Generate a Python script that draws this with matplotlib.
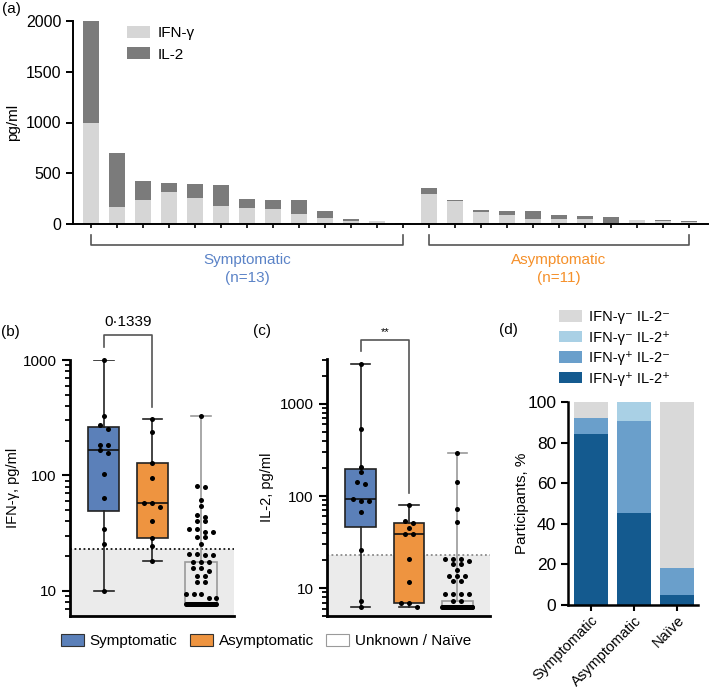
import numpy as np
import matplotlib
matplotlib.use("Agg")
import matplotlib.pyplot as plt
from matplotlib.patches import Patch
from matplotlib.ticker import LogLocator, NullFormatter
from matplotlib.transforms import blended_transform_factory

plt.rcParams['font.family'] = ['Liberation Sans', 'DejaVu Sans']
plt.rcParams['font.size'] = 10.5

# ---------------------------------------------------------------
# (a) donneurs individuels, IFN-g + IL-2 empilés
ifn_a = [1000, 170, 240, 318, 259, 177, 154, 145, 95, 59, 30, 32, 3,
         296, 230, 118, 85, 52, 52, 46, 3, 35, 25, 22]
il2_a = [1000, 533, 184, 86, 135, 204, 89, 91, 141, 69, 22, 1, 5,
         56, 6, 20, 46, 73, 37, 36, 63, 4, 11, 4]
n_sym, n_asym = 13, 11

# (b) IFN-g, pg/ml
ifn_sym = [1000, 330, 272, 250, 185, 185, 165, 155, 102, 64, 34, 25.6, 10]
ifn_asym = [309, 238, 128, 94, 57, 57, 53, 40, 28.6, 24.6, 18.2]
ifn_naive = [326, 81, 80, 61.5, 53.7, 45.5, 43.5, 40.4, 40.4, 34.4, 34.4, 32, 32,
             29.3, 29.3, 25.6, 20.7, 20.7, 20.5, 20.5, 17.6, 17.6, 17.6, 15.7, 15.7,
             14.9, 13.4, 13.4, 12, 12, 9.3, 9.3, 9.3, 8.7, 8.7] + [7.7] * 49

# (c) IL-2, pg/ml
il2_sym = [2700, 535, 206, 184, 143, 134, 94, 88, 88, 67.5, 25.9, 7.3, 6.3]
il2_asym = [79.8, 54, 50.5, 44.6, 38.6, 38.6, 20.5, 11.7, 6.9, 6.9, 6.3]
il2_naive = [291, 143, 71.6, 52.5, 21, 20.5, 20.5, 19.5, 18.5, 18.5, 15.7, 13.6,
             13.6, 13.6, 12, 12, 8.75, 8.75, 8.75, 8.75, 7.2, 7.2] + [6.3] * 62
seuil_ifn = 23
seuil_il2 = 23

# (d) participants, %
groupes_d = ['Symptomatic', 'Asymptomatic', 'Naïve']
pp = [84.6, 45.5, 5.1]   # IFN-g+ IL-2+
pm = [7.7, 45.4, 13.2]   # IFN-g+ IL-2-
mp = [0, 9.1, 0]         # IFN-g- IL-2+
mm = [7.7, 0, 81.7]      # IFN-g- IL-2-

c_sym = '#5b80b9'
c_asym = '#ee9440'
c_sym_txt = '#5b83c7'
c_asym_txt = '#f5902a'

W, H = 709, 690
fig = plt.figure(figsize=(W / 100, H / 100), dpi=100)


def ax_px(x0, y0, x1, y1):
    # axes a partir de coordonnees pixel (haut-gauche, bas-droit)
    return fig.add_axes([x0 / W, 1 - y1 / H, (x1 - x0) / W, (y1 - y0) / H])


def style_spines(ax, lw=1.6):
    ax.spines['top'].set_visible(False)
    ax.spines['right'].set_visible(False)
    ax.spines['left'].set_linewidth(lw)
    ax.spines['bottom'].set_linewidth(lw)


#----------------------------------------------------------------
# Panel (a)
ax_a = ax_px(73, 21, 708, 224)
x = np.arange(n_sym + n_asym)
ax_a.bar(x, ifn_a, width=0.64, color='#d6d6d6', label='IFN-γ')
ax_a.bar(x, il2_a, bottom=ifn_a, width=0.64, color='#7b7b7b', label='IL-2')
ax_a.set_xlim(-0.69, 23.73)
ax_a.set_ylim(0, 2000)
ax_a.set_yticks([0, 500, 1000, 1500, 2000])
ax_a.set_xticks(x)
ax_a.set_xticklabels([])
ax_a.tick_params(axis='x', length=3, width=1.2)
ax_a.tick_params(axis='y', length=5, width=1.4, labelsize=11.5)
style_spines(ax_a, 1.4)
ax_a.set_ylabel('pg/ml', fontsize=11)
ax_a.yaxis.set_label_coords(-0.084, 0.5)
ax_a.legend(loc='upper left', bbox_to_anchor=((127 - 73) / 635, (224 - 26) / 203),
            frameon=False, borderpad=0, borderaxespad=0, handlelength=1.5,
            handleheight=0.85, labelspacing=0.45, handletextpad=0.5, fontsize=11)

tr = blended_transform_factory(ax_a.transData, ax_a.transAxes)
for (i0, i1, titre, n, col) in [(0, n_sym - 1, 'Symptomatic', n_sym, c_sym_txt),
                                (n_sym, n_sym + n_asym - 1, 'Asymptomatic', n_asym, c_asym_txt)]:
    ax_a.plot([i0, i0, i1, i1], [-0.054, -0.103, -0.103, -0.054], color='#555555',
              lw=1.2, transform=tr, clip_on=False)
    xm = (i0 + i1) / 2
    ax_a.text(xm, -0.177, titre, color=col, ha='center', va='center', fontsize=11, transform=tr)
    ax_a.text(xm, -0.266, f'(n={n})', color=col, ha='center', va='center', fontsize=11, transform=tr)


#----------------------------------------------------------------
# Panels (b) et (c) : boites + points
def swarm(ax, pos, vals, gap_px=8, tol_px=4.5, half_px=15):
    vals = np.sort(np.asarray(vals, dtype=float))[::-1]
    ys = ax.transData.transform(np.column_stack([np.full(len(vals), pos), vals]))[:, 1]
    px_x = ax.transData.transform([[1, 1]])[0, 0] - ax.transData.transform([[0, 1]])[0, 0]
    xs = []
    i = 0
    while i < len(vals):
        j = i
        while j + 1 < len(vals) and ys[i] - ys[j + 1] < tol_px:
            j += 1
        k = j - i + 1
        step = gap_px if (k - 1) * gap_px <= 2 * half_px else 2 * half_px / (k - 1)
        offs = (np.arange(k) - (k - 1) / 2) * step
        xs.extend(pos + offs / px_x)
        i = j + 1
    ax.scatter(xs, vals, s=13, color='k', lw=0, zorder=5, clip_on=False)


def panel_boites(ax, groupes, ylim, seuil, seuil_col):
    ax.set_yscale('log')
    ax.set_xlim(0.3, 3.68)
    ax.set_ylim(*ylim)
    ax.axhspan(ylim[0], seuil, color='#ebebeb', zorder=0, lw=0)
    ax.axhline(seuil, ls=(0, (1, 1.5)), color=seuil_col, lw=1.3, zorder=1)
    for pos, (vals, face, edge) in enumerate(groupes, start=1):
        q1, med, q3 = np.percentile(vals, [25, 50, 75], method='weibull')
        stats = [dict(med=med, q1=q1, q3=q3, whislo=min(vals), whishi=max(vals), fliers=[])]
        ax.bxp(stats, positions=[pos], widths=0.64, patch_artist=True, showfliers=False,
               capwidths=0.4, manage_ticks=False,
               boxprops=dict(facecolor=face, edgecolor=edge, lw=1.2),
               whiskerprops=dict(color=edge, lw=1.2),
               capprops=dict(color=edge, lw=1.2),
               medianprops=dict(color='#111111', lw=1.2))
        swarm(ax, pos, vals)
    ax.set_xticks([])
    ax.set_yticks([10, 100, 1000])
    ax.set_yticklabels(['10', '100', '1000'])
    ax.yaxis.set_minor_locator(LogLocator(base=10, subs=np.arange(2, 10)))
    ax.yaxis.set_minor_formatter(NullFormatter())
    ax.tick_params(axis='y', which='major', length=6, width=1.5, labelsize=11)
    ax.tick_params(axis='y', which='minor', length=3.5, width=1.3)
    style_spines(ax, 2.0)


ax_b = ax_px(70, 360, 234, 616)
panel_boites(ax_b, [(ifn_sym, c_sym, '#222222'), (ifn_asym, c_asym, '#222222'),
                    (ifn_naive, 'none', '#9a9a9a')],
             (6.03, 1000), seuil_ifn, '#111111')
ax_b.set_ylabel('IFN-γ, pg/ml')
ax_b.yaxis.set_label_coords(-0.305, 0.5)
ax_b.plot([1, 1, 2, 2], [1288, 1640, 1640, 393], color='#555555', lw=1.2, clip_on=False)
ax_b.text(1.5, 2128, '0·1339', ha='center', va='center', fontsize=11)

ax_c = ax_px(327, 359.3, 490, 616)
panel_boites(ax_c, [(il2_sym, c_sym, '#222222'), (il2_asym, c_asym, '#222222'),
                    (il2_naive, 'none', '#9a9a9a')],
             (5.0, 3040), seuil_il2, '#8a8a8a')
ax_c.set_ylabel('IL-2, pg/ml')
ax_c.yaxis.set_label_coords(-0.325, 0.5)
ax_c.plot([1, 1, 2, 2], [3767, 4920, 4920, 108], color='#555555', lw=1.2, clip_on=False)
ax_c.text(1.5, 6000, '**', ha='center', va='center', fontsize=8)

fig.legend(handles=[Patch(facecolor=c_sym, edgecolor='#333333', lw=0.8, label='Symptomatic'),
                    Patch(facecolor=c_asym, edgecolor='#333333', lw=0.8, label='Asymptomatic'),
                    Patch(facecolor='white', edgecolor='#9a9a9a', lw=0.8, label='Unknown / Naïve')],
           loc='center', bbox_to_anchor=(266 / W, 1 - 641 / H), ncol=3, frameon=False,
           handlelength=1.5, handleheight=0.85, handletextpad=0.4, columnspacing=0.8,
           fontsize=11)


#----------------------------------------------------------------
# Panel (d)
ax_d = ax_px(568, 402.3, 698, 605)
xd = np.arange(len(groupes_d))
couleurs_d = ['#145a8f', '#6a9fcb', '#a9d0e5', '#d9d9d9']
labels_d = ['IFN-γ⁺ IL-2⁺', 'IFN-γ⁺ IL-2⁻', 'IFN-γ⁻ IL-2⁺', 'IFN-γ⁻ IL-2⁻']
bas = np.zeros(len(groupes_d))
barres = []
for vals, col, lab in zip([pp, pm, mp, mm], couleurs_d, labels_d):
    b = ax_d.bar(xd, vals, bottom=bas, width=0.81, color=col, label=lab)
    barres.append(b)
    bas += np.array(vals)
ax_d.set_xlim(-0.535, 2.49)
ax_d.set_ylim(0, 100)
ax_d.set_yticks([0, 20, 40, 60, 80, 100])
ax_d.set_xticks(xd)
ax_d.set_xticklabels(groupes_d, rotation=45, ha='right', rotation_mode='anchor')
ax_d.tick_params(axis='y', length=5, width=1.5, labelsize=12.5)
ax_d.tick_params(axis='x', length=4, width=1.5, labelsize=10.5, pad=2)
style_spines(ax_d, 1.8)
ax_d.set_ylabel('Participants, %', fontsize=11)
ax_d.yaxis.set_label_coords(-0.30, 0.5)
ax_d.legend(handles=barres[::-1], loc='upper left',
            bbox_to_anchor=((559 - 568) / 130, (605 - 310) / 202.7),
            frameon=False, borderpad=0, borderaxespad=0, handlelength=1.6,
            handleheight=0.85, labelspacing=0.45, handletextpad=0.45, fontsize=10.5)

# lettres des panneaux
for lettre, xp, yp in [('(a)', 2, 9), ('(b)', 1, 332), ('(c)', 253, 331), ('(d)', 499, 330)]:
    fig.text(xp / W, 1 - yp / H, lettre, ha='left', va='center', fontsize=11)

fig.savefig('out.png', dpi=100)
